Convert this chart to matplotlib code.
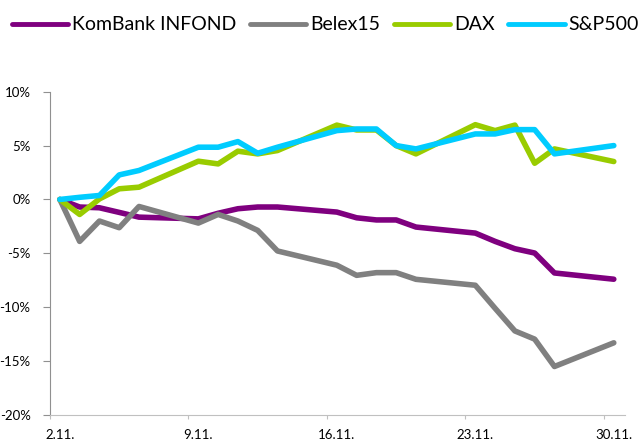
import matplotlib.pyplot as plt
from matplotlib.ticker import FuncFormatter

# trading days in November (weekends skipped, lines join across them)
days = [2, 3, 4, 5, 6, 9, 10, 11, 12, 13, 16, 17, 18, 19, 20, 23, 24, 25, 26, 27, 30]
kombank = [0, -0.7, -0.77, -1.2, -1.64, -1.8, -1.28, -0.86, -0.7, -0.7, -1.17,
           -1.7, -1.9, -1.9, -2.56, -3.12, -3.89, -4.57, -4.97, -6.82, -7.4]
belex = [0, -3.89, -2.0, -2.62, -0.65, -2.19, -1.39, -2.0, -2.87, -4.78, -6.1,
         -7.04, -6.79, -6.79, -7.41, -7.96, -10.1, -12.2, -12.96, -15.5, -13.3]
dax = [0, -1.39, 0.05, 0.99, 1.14, 3.55, 3.3, 4.48, 4.23, 4.54, 6.9,
       6.45, 6.45, 5.0, 4.23, 6.94, 6.39, 6.9, 3.36, 4.69, 3.52]
sp500 = [0, 0.2, 0.37, 2.28, 2.69, 4.85, 4.85, 5.37, 4.29, 4.85, 6.39,
         6.54, 6.54, 5.0, 4.69, 6.08, 6.08, 6.48, 6.48, 4.23, 5.0]

series_names = ["KomBank INFOND", "Belex15", "DAX", "S&P500"]
tick_days = [2, 9, 16, 23, 30]
tick_labels = ["2.11.", "9.11.", "16.11.", "23.11.", "30.11."]

plt.rcParams['font.family'] = ['Lato', 'DejaVu Sans']

fig = plt.figure(figsize=(6.44, 4.43), dpi=100)
ax = fig.add_axes([0.0776, 0.0632, 0.8924, 0.7298])

x = [d - days[0] for d in days]
colors = ['#7f007f', '#808080', '#99cc00', '#00ccff']
for vals, name, c in zip([kombank, belex, dax, sp500], series_names, colors):
    ax.plot(x, vals, color=c, lw=4, label=name,
            solid_capstyle='round', solid_joinstyle='round')

ax.set_xlim(-0.45, 28.55)
ax.set_ylim(-20, 10)
ax.set_yticks(range(-20, 11, 5))
ax.yaxis.set_major_formatter(FuncFormatter(lambda v, p: f"{v:.0f}%"))

# ticks sit between categories, labels on the category
ax.set_xticks([d - days[0] - 0.5 for d in tick_days])
ax.set_xticklabels([])
ax.set_xticks([d - days[0] for d in tick_days], minor=True)
ax.set_xticklabels(tick_labels, minor=True)
ax.tick_params(axis='x', which='minor', length=0, pad=10, labelsize=9.5)
ax.tick_params(axis='x', which='major', length=3, color='#c0c0c0')
ax.tick_params(axis='y', length=5, color='#909090', pad=9, labelsize=9.5)

for s in ['top', 'right']:
    ax.spines[s].set_visible(False)
ax.spines['left'].set_color('#909090')
ax.spines['bottom'].set_color('#c0c0c0')

leg = fig.legend(loc='center', bbox_to_anchor=(0.505, 0.944), ncol=4, frameon=False,
                 fontsize=14, handlelength=2.9, handletextpad=0.2, columnspacing=0.7)
for h in leg.legend_handles:
    h.set_linewidth(3.5)

fig.savefig('out.png', dpi=100)
